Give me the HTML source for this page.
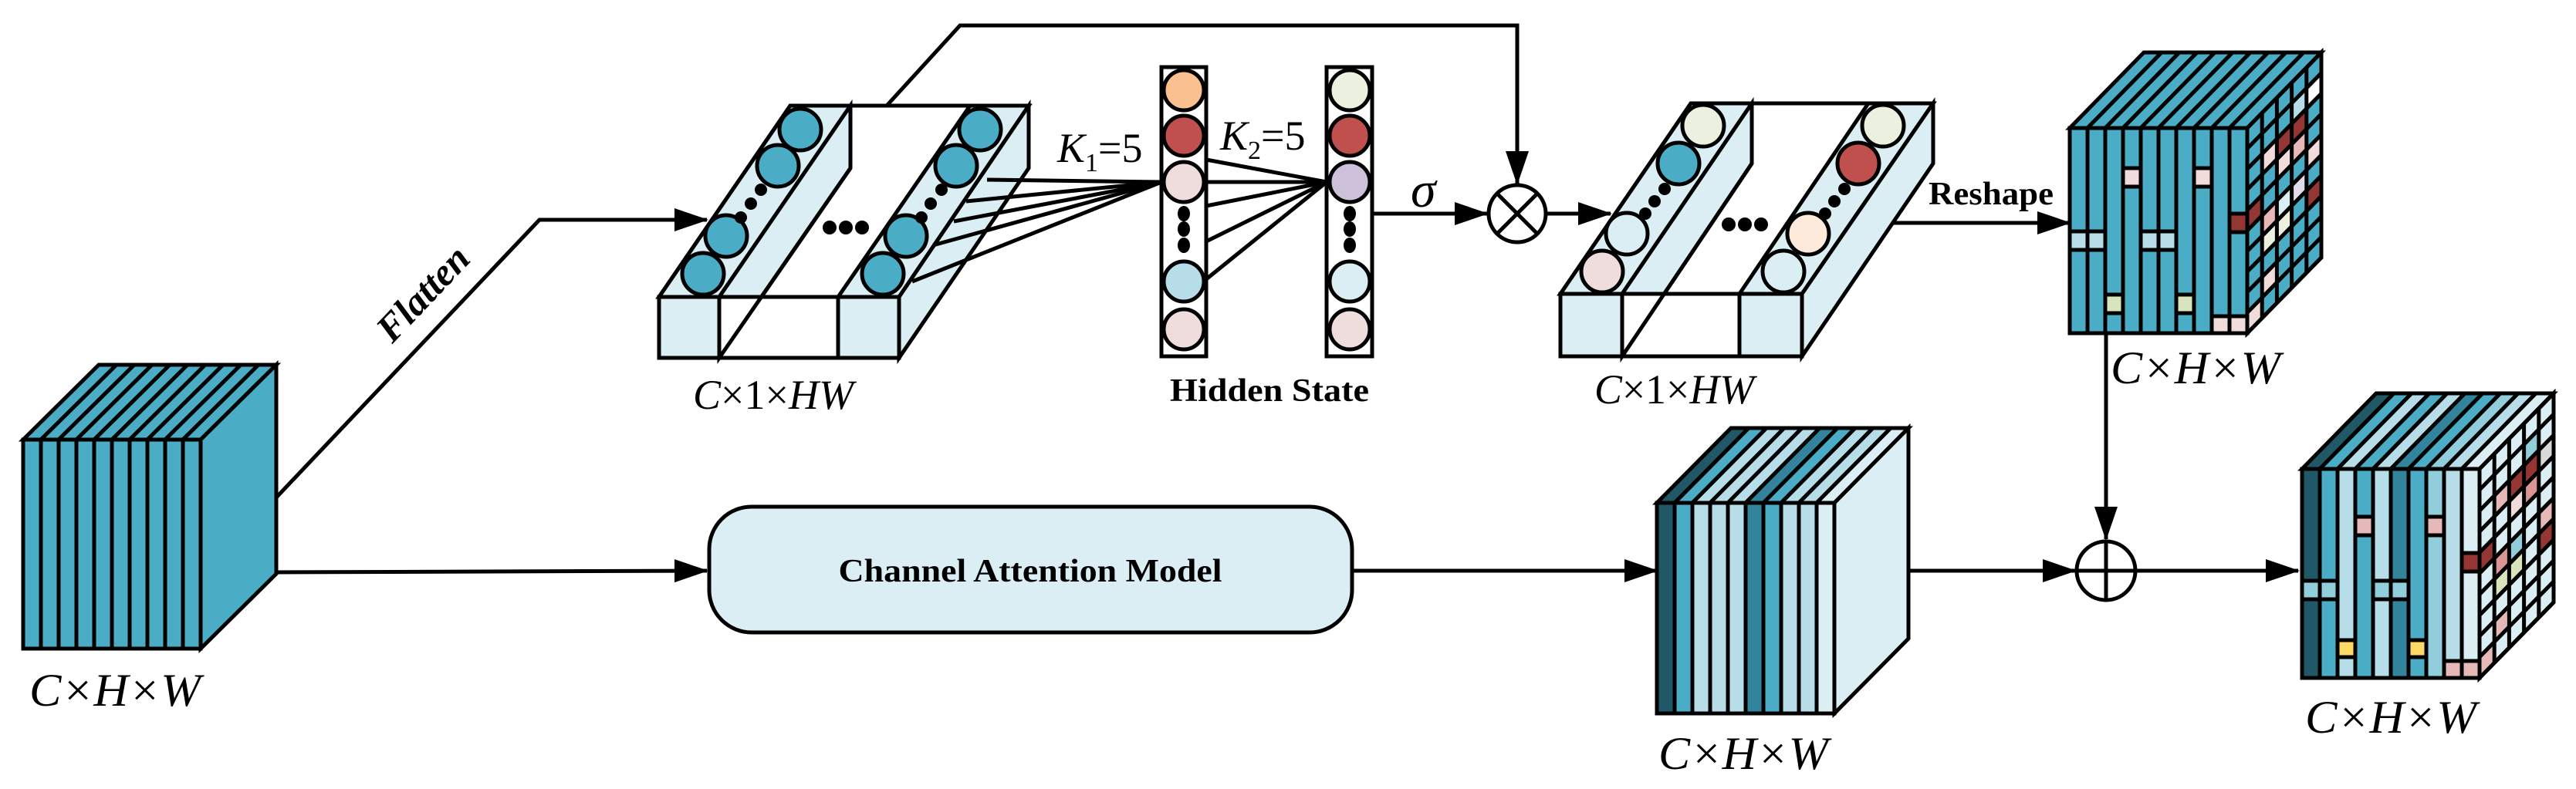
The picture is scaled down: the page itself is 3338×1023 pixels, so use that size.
<!DOCTYPE html>
<html><head><meta charset="utf-8"><style>
html,body{margin:0;padding:0;background:#fff}
svg{display:block}
text{font-family:"Liberation Serif",serif}
.s{stroke:#000;stroke-width:5;vector-effect:non-scaling-stroke}
</style></head><body>
<svg width="3338" height="1023" viewBox="0 0 3338 1023" xmlns="http://www.w3.org/2000/svg">
<defs>
<marker id="a" markerUnits="userSpaceOnUse" markerWidth="44" markerHeight="30" refX="42" refY="15" orient="auto"><path d="M0,0 L44,15 L0,30 Z" fill="#000"/></marker>
</defs>
<g fill="none" stroke="#000" stroke-width="5">
<polyline points="358,645 699,285 916,285" marker-end="url(#a)"/>
<polyline points="358,742 916,740" marker-end="url(#a)"/>
<polyline points="1149,137 1244,33 1966,33 1966,238" marker-end="url(#a)"/>
<line x1="1778" y1="277" x2="1927" y2="277" marker-end="url(#a)"/>
<line x1="2005" y1="277" x2="2087" y2="277" marker-end="url(#a)"/>
<line x1="2454" y1="289" x2="2682" y2="289" marker-end="url(#a)"/>
<line x1="2729" y1="432" x2="2729" y2="699" marker-end="url(#a)"/>
<line x1="1752" y1="740" x2="2147" y2="740" marker-end="url(#a)"/>
<line x1="2473" y1="740" x2="2689" y2="740" marker-end="url(#a)"/>
<line x1="2767" y1="740" x2="2978" y2="740" marker-end="url(#a)"/>
</g>

<!-- Cube 1 -->
<g>
<g transform="matrix(1,0,98,-97,30,570)" fill="#4bacc6">
<rect class="s" x="0" y="0" width="23" height="1"/>
<rect class="s" x="23" y="0" width="23" height="1"/><rect class="s" x="46" y="0" width="23" height="1"/><rect class="s" x="69" y="0" width="23" height="1"/><rect class="s" x="92" y="0" width="23" height="1"/><rect class="s" x="115" y="0" width="23" height="1"/><rect class="s" x="138" y="0" width="23" height="1"/><rect class="s" x="161" y="0" width="23" height="1"/><rect class="s" x="184" y="0" width="23" height="1"/><rect class="s" x="207" y="0" width="23" height="1"/>
</g>
<polygon class="s" points="260,570 358,473 358,744 260,841" fill="#4bacc6"/>
<g fill="#4bacc6">
<rect class="s" x="30" y="570" width="23" height="271"/><rect class="s" x="53" y="570" width="23" height="271"/><rect class="s" x="76" y="570" width="23" height="271"/><rect class="s" x="99" y="570" width="23" height="271"/><rect class="s" x="122" y="570" width="23" height="271"/><rect class="s" x="145" y="570" width="23" height="271"/><rect class="s" x="168" y="570" width="23" height="271"/><rect class="s" x="191" y="570" width="23" height="271"/><rect class="s" x="214" y="570" width="23" height="271"/><rect class="s" x="237" y="570" width="23" height="271"/>
</g>
</g>
<text x="38" y="915" font-size="60" font-style="italic" textLength="222" lengthAdjust="spacingAndGlyphs">C×H×W</text>
<text transform="translate(560,392) rotate(-46.5)" font-size="50" font-weight="bold" font-style="italic" text-anchor="middle">Flatten</text>

<rect class="s" x="919" y="657" width="833" height="163" rx="55" ry="55" fill="#daeef3"/>
<text x="1335" y="754" font-size="42" font-weight="bold" text-anchor="middle" textLength="497" lengthAdjust="spacingAndGlyphs">Channel Attention Model</text>

<!-- Block 1 -->
<g>
<polygon class="s" points="854,385 1024,137 1333,137 1165,385" fill="#fff"/>
<polygon class="s" points="854,385 1024,137 1102,137 932,385" fill="#daeef3"/>
<polygon class="s" points="932,385 1102,137 1102,218 932,464" fill="#daeef3"/>
<polygon class="s" points="1086,385 1257,137 1333,137 1165,385" fill="#daeef3"/>
<polygon class="s" points="1165,385 1333,137 1333,218 1165,464" fill="#daeef3"/>
<rect class="s" x="854" y="385" width="78" height="79" fill="#daeef3"/>
<rect class="s" x="932" y="385" width="154" height="79" fill="#fff"/>
<rect class="s" x="1086" y="385" width="79" height="79" fill="#daeef3"/>
<line class="s" x1="932" y1="464" x2="1102" y2="218"/>
</g>
<g fill="#4bacc6" stroke="#000" stroke-width="5">
<circle cx="1037" cy="168" r="27"/><circle cx="1008" cy="215" r="27"/><circle cx="941" cy="306" r="27"/><circle cx="911" cy="355" r="27"/>
<circle cx="1270" cy="168" r="27"/><circle cx="1239" cy="215" r="27"/><circle cx="1174" cy="306" r="27"/><circle cx="1144" cy="355" r="27"/>
</g>
<g fill="#000">
<circle cx="986" cy="246" r="8"/><circle cx="973" cy="264" r="8"/><circle cx="960" cy="282" r="8"/>
<circle cx="1220" cy="246" r="8"/><circle cx="1206" cy="264" r="8"/><circle cx="1194" cy="282" r="8"/>
<circle cx="1075" cy="295" r="9"/><circle cx="1096" cy="295" r="9"/><circle cx="1117" cy="295" r="9"/>
</g>
<g stroke="#000" stroke-width="5">
<line x1="1279" y1="233" x2="1505" y2="236"/><line x1="1252" y1="261" x2="1505" y2="236"/><line x1="1236" y1="287" x2="1505" y2="236"/><line x1="1209" y1="318" x2="1505" y2="236"/><line x1="1182" y1="365" x2="1505" y2="236"/>
<line x1="1563" y1="207" x2="1719" y2="236"/><line x1="1563" y1="236" x2="1719" y2="236"/><line x1="1563" y1="267" x2="1719" y2="236"/><line x1="1563" y1="313" x2="1719" y2="236"/><line x1="1563" y1="362" x2="1719" y2="236"/>
</g>
<text x="898" y="530" font-size="54" textLength="208" lengthAdjust="spacingAndGlyphs"><tspan font-style="italic">C</tspan>×1×<tspan font-style="italic">HW</tspan></text>
<text x="1370" y="210" font-size="54"><tspan font-style="italic">K</tspan><tspan font-size="34" dy="12">1</tspan><tspan dy="-12">=5</tspan></text>
<text x="1581" y="194" font-size="54"><tspan font-style="italic">K</tspan><tspan font-size="34" dy="12">2</tspan><tspan dy="-12">=5</tspan></text>

<rect class="s" x="1505" y="87" width="58" height="375" fill="#fff"/>
<rect class="s" x="1719" y="87" width="59" height="375" fill="#fff"/>
<g stroke="#000" stroke-width="5">
<circle cx="1534" cy="117" r="26" fill="#fac090"/><circle cx="1534" cy="176" r="26" fill="#c0504d"/><circle cx="1534" cy="236" r="26" fill="#eedddc"/><circle cx="1534" cy="365" r="26" fill="#b7dee8"/><circle cx="1534" cy="427" r="26" fill="#eedddc"/>
<circle cx="1749" cy="117" r="26" fill="#ebf1de"/><circle cx="1749" cy="176" r="26" fill="#c0504d"/><circle cx="1749" cy="236" r="26" fill="#ccc0da"/><circle cx="1749" cy="365" r="26" fill="#daeef3"/><circle cx="1749" cy="427" r="26" fill="#eedddc"/>
</g>
<g fill="#000">
<ellipse cx="1534" cy="277" rx="8" ry="10"/><ellipse cx="1534" cy="297" rx="8" ry="10"/><ellipse cx="1534" cy="318" rx="8" ry="10"/>
<ellipse cx="1749" cy="277" rx="8" ry="10"/><ellipse cx="1749" cy="297" rx="8" ry="10"/><ellipse cx="1749" cy="318" rx="8" ry="10"/>
</g>
<text x="1645" y="520" font-size="42" font-weight="bold" text-anchor="middle" textLength="258" lengthAdjust="spacingAndGlyphs">Hidden State</text>
<text x="1828" y="268" font-size="66" font-style="italic">σ</text>

<g stroke="#000" stroke-width="5" fill="#fff">
<circle cx="1966" cy="277" r="37"/>
<line x1="1940" y1="251" x2="1992" y2="303"/><line x1="1992" y1="251" x2="1940" y2="303"/>
</g>

<!-- Block 2 -->
<g>
<polygon class="s" points="2022,381 2191,134 2505,134 2335,381" fill="#fff"/>
<polygon class="s" points="2022,381 2191,134 2270,134 2102,381" fill="#daeef3"/>
<polygon class="s" points="2102,381 2270,134 2270,212 2102,462" fill="#daeef3"/>
<polygon class="s" points="2254,381 2421,134 2505,134 2335,381" fill="#daeef3"/>
<polygon class="s" points="2335,381 2505,134 2505,212 2335,462" fill="#daeef3"/>
<rect class="s" x="2022" y="381" width="80" height="81" fill="#daeef3"/>
<rect class="s" x="2102" y="381" width="152" height="81" fill="#fff"/>
<rect class="s" x="2254" y="381" width="81" height="81" fill="#daeef3"/>
<line class="s" x1="2102" y1="462" x2="2270" y2="212"/>
</g>
<g stroke="#000" stroke-width="5">
<circle cx="2207" cy="163" r="27" fill="#ebf1de"/><circle cx="2175" cy="212" r="27" fill="#4bacc6"/><circle cx="2108" cy="303" r="27" fill="#daeef3"/><circle cx="2076" cy="352" r="27" fill="#eedddc"/>
<circle cx="2440" cy="163" r="27" fill="#ebf1de"/><circle cx="2408" cy="212" r="27" fill="#c0504d"/><circle cx="2343" cy="303" r="27" fill="#fdeada"/><circle cx="2311" cy="352" r="27" fill="#daeef3"/>
</g>
<g fill="#000">
<circle cx="2157" cy="245" r="8"/><circle cx="2144" cy="261" r="8"/><circle cx="2132" cy="277" r="8"/>
<circle cx="2390" cy="245" r="8"/><circle cx="2377" cy="261" r="8"/><circle cx="2365" cy="277" r="8"/>
<circle cx="2240" cy="291" r="9"/><circle cx="2261" cy="291" r="9"/><circle cx="2282" cy="291" r="9"/>
</g>
<text x="2066" y="523" font-size="54" textLength="207" lengthAdjust="spacingAndGlyphs"><tspan font-style="italic">C</tspan>×1×<tspan font-style="italic">HW</tspan></text>
<text x="2499" y="265" font-size="42" font-weight="bold" textLength="162" lengthAdjust="spacingAndGlyphs">Reshape</text>

<!-- Cube 2 -->
<g>
<g transform="matrix(1,0,96,-98,2682,166)" fill="#4bacc6">
<rect class="s" x="0" y="0" width="23" height="1"/><rect class="s" x="23" y="0" width="23" height="1"/><rect class="s" x="46" y="0" width="23" height="1"/><rect class="s" x="69" y="0" width="23" height="1"/><rect class="s" x="92" y="0" width="23" height="1"/><rect class="s" x="115" y="0" width="23" height="1"/><rect class="s" x="138" y="0" width="23" height="1"/><rect class="s" x="161" y="0" width="23" height="1"/><rect class="s" x="184" y="0" width="23" height="1"/><rect class="s" x="207" y="0" width="23" height="1"/>
</g>
<g transform="matrix(96,-98,0,1,2912,166)" fill="#4bacc6">
<rect class="s" x="0" y="0" width="1" height="266"/>
<rect x="0.2" y="53.2" width="0.2" height="26.6" fill="#f2dcdb"/>
<rect x="0.4" y="53.2" width="0.2" height="26.6" fill="#943634"/>
<rect x="0.6" y="26.6" width="0.2" height="26.6" fill="#b7dee8"/>
<rect x="0.6" y="53.2" width="0.2" height="26.6" fill="#943634"/>
<rect x="0.6" y="79.8" width="0.2" height="26.6" fill="#e6b9b8"/>
<rect x="0.4" y="79.8" width="0.2" height="26.6" fill="#f2dcdb"/>
<rect x="0.8" y="26.6" width="0.2" height="26.6" fill="#fff"/>
<rect x="0" y="106.4" width="0.2" height="26.6" fill="#943634"/>
<rect x="0.2" y="133" width="0.2" height="26.6" fill="#e6b9b8"/>
<rect x="0.2" y="159.6" width="0.2" height="26.6" fill="#ebf1de"/>
<rect x="0.4" y="133" width="0.2" height="26.6" fill="#daeef3"/>
<rect x="0.4" y="159.6" width="0.2" height="26.6" fill="#ebf1de"/>
<rect x="0.6" y="133" width="0.2" height="26.6" fill="#e0dcea"/>
<rect x="0.8" y="106.4" width="0.2" height="26.6" fill="#f2dcdb"/>
<rect x="0.8" y="159.6" width="0.2" height="26.6" fill="#943634"/>
<rect x="0" y="239.4" width="0.2" height="26.6" fill="#f2dcdb"/>
<rect x="0.2" y="212.8" width="0.2" height="26.6" fill="#f2dcdb"/>
<line class="s" x1="0.2" y1="0" x2="0.2" y2="266"/><line class="s" x1="0.4" y1="0" x2="0.4" y2="266"/><line class="s" x1="0.6" y1="0" x2="0.6" y2="266"/><line class="s" x1="0.8" y1="0" x2="0.8" y2="266"/>
<line class="s" x1="0" y1="26.6" x2="1" y2="26.6"/><line class="s" x1="0" y1="53.2" x2="1" y2="53.2"/><line class="s" x1="0" y1="79.8" x2="1" y2="79.8"/><line class="s" x1="0" y1="106.4" x2="1" y2="106.4"/><line class="s" x1="0" y1="133" x2="1" y2="133"/><line class="s" x1="0" y1="159.6" x2="1" y2="159.6"/><line class="s" x1="0" y1="186.2" x2="1" y2="186.2"/><line class="s" x1="0" y1="212.8" x2="1" y2="212.8"/><line class="s" x1="0" y1="239.4" x2="1" y2="239.4"/>
<rect class="s" x="0" y="0" width="1" height="266" fill="none"/>
</g>
<g fill="#4bacc6">
<rect class="s" x="2682" y="166" width="23" height="266"/><rect class="s" x="2705" y="166" width="23" height="266"/><rect class="s" x="2728" y="166" width="23" height="266"/><rect class="s" x="2751" y="166" width="23" height="266"/><rect class="s" x="2774" y="166" width="23" height="266"/><rect class="s" x="2797" y="166" width="23" height="266"/><rect class="s" x="2820" y="166" width="23" height="266"/><rect class="s" x="2843" y="166" width="23" height="266"/><rect class="s" x="2866" y="166" width="23" height="266"/><rect class="s" x="2889" y="166" width="23" height="266"/>
</g>
<rect class="s" x="2751" y="218" width="23" height="24" fill="#f2dcdb"/><rect class="s" x="2843" y="218" width="23" height="24" fill="#f2dcdb"/>
<rect class="s" x="2682" y="300" width="23" height="24" fill="#b7dee8"/><rect class="s" x="2705" y="300" width="23" height="24" fill="#b7dee8"/>
<rect class="s" x="2774" y="300" width="23" height="24" fill="#b7dee8"/><rect class="s" x="2797" y="300" width="23" height="24" fill="#b7dee8"/>
<rect class="s" x="2728" y="382" width="23" height="24" fill="#d7e4bd"/><rect class="s" x="2820" y="382" width="23" height="24" fill="#d7e4bd"/>
<rect class="s" x="2889" y="277" width="23" height="24" fill="#943634"/>
<rect class="s" x="2866" y="410" width="23" height="22" fill="#f2dcdb"/><rect class="s" x="2889" y="410" width="23" height="22" fill="#f2dcdb"/>
</g>
<text x="2735" y="497" font-size="60" font-style="italic" textLength="220" lengthAdjust="spacingAndGlyphs">C×H×W</text>

<g stroke="#000" stroke-width="5" fill="#fff">
<circle cx="2729" cy="740" r="38"/>
<line x1="2691" y1="740" x2="2767" y2="740"/><line x1="2729" y1="702" x2="2729" y2="778"/>
</g>

<!-- Cube 3 -->
<g>
<g transform="matrix(1,0,96,-97,2147,652)">
<rect class="s" x="0" y="0" width="23" height="1" fill="#215868"/><rect class="s" x="23" y="0" width="23" height="1" fill="#4bacc6"/><rect class="s" x="46" y="0" width="23" height="1" fill="#b7dee8"/><rect class="s" x="69" y="0" width="23" height="1" fill="#b7dee8"/><rect class="s" x="92" y="0" width="23" height="1" fill="#b7dee8"/><rect class="s" x="115" y="0" width="23" height="1" fill="#31849b"/><rect class="s" x="138" y="0" width="23" height="1" fill="#4bacc6"/><rect class="s" x="161" y="0" width="23" height="1" fill="#b7dee8"/><rect class="s" x="184" y="0" width="23" height="1" fill="#b7dee8"/><rect class="s" x="207" y="0" width="23" height="1" fill="#daeef3"/>
</g>
<polygon class="s" points="2377,652 2473,555 2473,828 2377,925" fill="#daeef3"/>
<rect class="s" x="2147" y="652" width="23" height="273" fill="#215868"/><rect class="s" x="2170" y="652" width="23" height="273" fill="#4bacc6"/><rect class="s" x="2193" y="652" width="23" height="273" fill="#b7dee8"/><rect class="s" x="2216" y="652" width="23" height="273" fill="#b7dee8"/><rect class="s" x="2239" y="652" width="23" height="273" fill="#b7dee8"/><rect class="s" x="2262" y="652" width="23" height="273" fill="#31849b"/><rect class="s" x="2285" y="652" width="23" height="273" fill="#4bacc6"/><rect class="s" x="2308" y="652" width="23" height="273" fill="#b7dee8"/><rect class="s" x="2331" y="652" width="23" height="273" fill="#b7dee8"/><rect class="s" x="2354" y="652" width="23" height="273" fill="#daeef3"/>
</g>
<text x="2149" y="997" font-size="60" font-style="italic" textLength="220" lengthAdjust="spacingAndGlyphs">C×H×W</text>

<!-- Cube 4 -->
<g>
<g transform="matrix(1,0,96,-98,2983,608)">
<rect class="s" x="0" y="0" width="23" height="1" fill="#215868"/><rect class="s" x="23" y="0" width="23" height="1" fill="#4bacc6"/><rect class="s" x="46" y="0" width="23" height="1" fill="#b7dee8"/><rect class="s" x="69" y="0" width="23" height="1" fill="#4bacc6"/><rect class="s" x="92" y="0" width="23" height="1" fill="#b7dee8"/><rect class="s" x="115" y="0" width="23" height="1" fill="#31849b"/><rect class="s" x="138" y="0" width="23" height="1" fill="#4bacc6"/><rect class="s" x="161" y="0" width="23" height="1" fill="#92cddc"/><rect class="s" x="184" y="0" width="23" height="1" fill="#b7dee8"/><rect class="s" x="207" y="0" width="23" height="1" fill="#daeef3"/>
</g>
<g transform="matrix(96,-98,0,1,3213,608)" fill="#daeef3">
<rect class="s" x="0" y="0" width="1" height="271"/>
<rect x="0.2" y="54.2" width="0.2" height="27.1" fill="#e6b9b8"/>
<rect x="0.4" y="54.2" width="0.2" height="27.1" fill="#943634"/>
<rect x="0.4" y="81.3" width="0.2" height="27.1" fill="#f2dcdb"/>
<rect x="0.6" y="27.1" width="0.2" height="27.1" fill="#92cddc"/>
<rect x="0.6" y="54.2" width="0.2" height="27.1" fill="#943634"/>
<rect x="0.6" y="81.3" width="0.2" height="27.1" fill="#da9694"/>
<rect x="0.8" y="54.2" width="0.2" height="27.1" fill="#d9d9d9"/>
<rect x="0" y="108.4" width="0.2" height="27.1" fill="#943634"/>
<rect x="0.2" y="135.5" width="0.2" height="27.1" fill="#da9694"/>
<rect x="0.4" y="135.5" width="0.2" height="27.1" fill="#92cddc"/>
<rect x="0.2" y="162.6" width="0.2" height="27.1" fill="#d8e4bc"/>
<rect x="0.4" y="162.6" width="0.2" height="27.1" fill="#d8e4bc"/>
<rect x="0.8" y="135.5" width="0.2" height="27.1" fill="#e6b9b8"/>
<rect x="0.8" y="162.6" width="0.2" height="27.1" fill="#943634"/>
<rect x="0" y="243.9" width="0.2" height="27.1" fill="#e6b9b8"/>
<rect x="0.2" y="216.8" width="0.2" height="27.1" fill="#e6b9b8"/>
<line class="s" x1="0.2" y1="0" x2="0.2" y2="271"/><line class="s" x1="0.4" y1="0" x2="0.4" y2="271"/><line class="s" x1="0.6" y1="0" x2="0.6" y2="271"/><line class="s" x1="0.8" y1="0" x2="0.8" y2="271"/>
<line class="s" x1="0" y1="27.1" x2="1" y2="27.1"/><line class="s" x1="0" y1="54.2" x2="1" y2="54.2"/><line class="s" x1="0" y1="81.3" x2="1" y2="81.3"/><line class="s" x1="0" y1="108.4" x2="1" y2="108.4"/><line class="s" x1="0" y1="135.5" x2="1" y2="135.5"/><line class="s" x1="0" y1="162.6" x2="1" y2="162.6"/><line class="s" x1="0" y1="189.7" x2="1" y2="189.7"/><line class="s" x1="0" y1="216.8" x2="1" y2="216.8"/><line class="s" x1="0" y1="243.9" x2="1" y2="243.9"/>
<rect class="s" x="0" y="0" width="1" height="271" fill="none"/>
</g>
<rect class="s" x="2983" y="608" width="23" height="271" fill="#215868"/><rect class="s" x="3006" y="608" width="23" height="271" fill="#4bacc6"/><rect class="s" x="3029" y="608" width="23" height="271" fill="#b7dee8"/><rect class="s" x="3052" y="608" width="23" height="271" fill="#4bacc6"/><rect class="s" x="3075" y="608" width="23" height="271" fill="#b7dee8"/><rect class="s" x="3098" y="608" width="23" height="271" fill="#31849b"/><rect class="s" x="3121" y="608" width="23" height="271" fill="#4bacc6"/><rect class="s" x="3144" y="608" width="23" height="271" fill="#92cddc"/><rect class="s" x="3167" y="608" width="23" height="271" fill="#b7dee8"/><rect class="s" x="3190" y="608" width="23" height="271" fill="#daeef3"/>
<rect class="s" x="3052" y="670" width="23" height="24" fill="#e6b9b8"/><rect class="s" x="3144" y="670" width="23" height="24" fill="#e6b9b8"/>
<rect class="s" x="2983" y="753" width="23" height="24" fill="#92cddc"/><rect class="s" x="3006" y="753" width="23" height="24" fill="#92cddc"/>
<rect class="s" x="3075" y="753" width="23" height="24" fill="#92cddc"/><rect class="s" x="3098" y="753" width="23" height="24" fill="#92cddc"/>
<rect class="s" x="3029" y="830" width="23" height="22" fill="#ffd966"/><rect class="s" x="3121" y="830" width="23" height="22" fill="#ffd966"/>
<rect class="s" x="3190" y="717" width="23" height="24" fill="#943634"/>
<rect class="s" x="3167" y="857" width="23" height="22" fill="#e6b9b8"/><rect class="s" x="3190" y="857" width="23" height="22" fill="#e6b9b8"/>
</g>
<text x="2987" y="950" font-size="60" font-style="italic" textLength="222" lengthAdjust="spacingAndGlyphs">C×H×W</text>
</svg>
</body></html>
